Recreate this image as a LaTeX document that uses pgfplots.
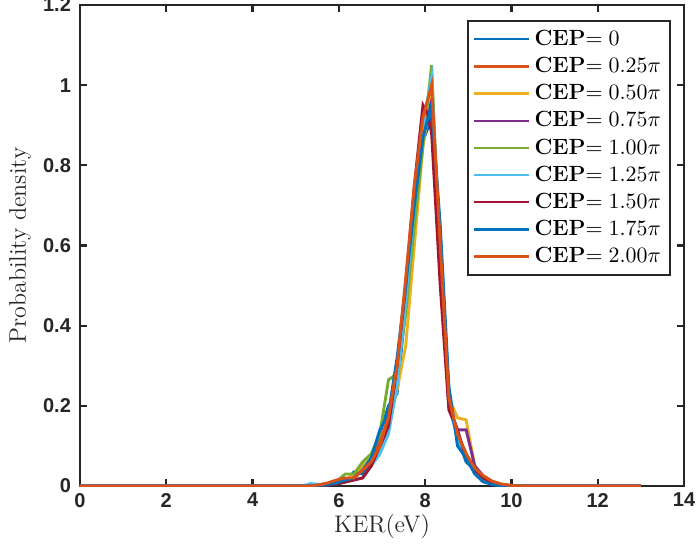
\documentclass[border=0pt]{standalone}
\usepackage{fontspec}
\setsansfont{Liberation Sans}
\usepackage{pgfplots}
\pgfplotsset{compat=1.18}
\usetikzlibrary{calc}
\definecolor{c1}{rgb}{0,0.447,0.741}
\definecolor{c2}{rgb}{0.85,0.325,0.098}
\definecolor{c3}{rgb}{0.929,0.694,0.125}
\definecolor{c4}{rgb}{0.494,0.184,0.556}
\definecolor{c5}{rgb}{0.466,0.674,0.188}
\definecolor{c6}{rgb}{0.301,0.745,0.933}
\definecolor{c7}{rgb}{0.635,0.078,0.184}
\definecolor{axc}{rgb}{0.15,0.15,0.15}
\begin{document}
\begin{tikzpicture}
\begin{axis}[
  scale only axis,
  width=302pt, height=240.5pt,
  xmin=0, xmax=14, ymin=0, ymax=1.2,
  xtick={0,2,...,14}, ytick={0,0.2,...,1.2},
  /pgf/number format/assume math mode=true,
  tick label style={font=\sffamily\bfseries\fontsize{10}{12}\selectfont, text=axc},
  yticklabel style={xshift=-1pt},
  axis line style={axc, line width=1.1pt},
  major tick style={axc, line width=1.1pt},
  major tick length=3.5pt,
  tick align=inside,
  xlabel={KER(eV)}, ylabel={Probability density},
  label style={font=\fontsize{12}{14}\selectfont, text=axc},
  xlabel style={at={($(rel axis cs:0.5,0)+(0,-20.5pt)$)}, anchor=center},
  ylabel style={at={($(rel axis cs:0,0.5)+(-30pt,0)$)}, anchor=center},
  every axis plot/.append style={line width=1.45pt},
  legend cell align=left,
  legend style={at={(rel axis cs:1,1)}, anchor=north east, xshift=-6.5pt, yshift=-7.5pt,
    draw=axc, line width=1.1pt, font=\fontsize{11}{12}\selectfont, row sep=0.4pt, inner sep=2.5pt},
  legend image code/.code={\draw[#1, line width=1.2pt] (0pt,0pt) -- (27.5pt,0pt);},
]
\coordinate (ll) at (rel axis cs:0,0);
\coordinate (ur) at (rel axis cs:1,1);
\addplot[c1] coordinates {(0,0)(5.35,0)(5.55,0.002)(5.75,0.003)(5.95,0.005)(6.15,0.01)(6.35,0.035)(6.55,0.03)(6.75,0.06)(6.95,0.13)(7.15,0.2)(7.35,0.23)(7.55,0.45)(7.75,0.66)(7.95,0.86)(8.15,0.92)(8.35,0.62)(8.55,0.22)(8.75,0.12)(8.95,0.06)(9.15,0.04)(9.35,0.012)(9.55,0.005)(9.75,0.002)(9.95,0)(13,0)};
\addlegendentry{\textbf{CEP}${=}\;0$}
\addplot[c2] coordinates {(0,0)(5.35,0)(5.55,0.002)(5.75,0.004)(5.95,0.008)(6.15,0.012)(6.35,0.02)(6.55,0.04)(6.75,0.07)(6.95,0.11)(7.15,0.17)(7.35,0.3)(7.55,0.5)(7.75,0.73)(7.95,0.9)(8.15,0.97)(8.35,0.58)(8.55,0.21)(8.75,0.13)(8.95,0.08)(9.15,0.045)(9.35,0.025)(9.55,0.012)(9.75,0.005)(9.95,0.002)(10.15,0)(13,0)};
\addlegendentry{\textbf{CEP}${=}\;0.25\pi$}
\addplot[c3] coordinates {(0,0)(5.35,0)(5.55,0.002)(5.75,0.004)(5.95,0.008)(6.15,0.015)(6.35,0.03)(6.55,0.05)(6.75,0.07)(6.95,0.09)(7.15,0.15)(7.35,0.24)(7.55,0.35)(7.75,0.6)(7.95,0.85)(8.15,0.98)(8.35,0.6)(8.55,0.22)(8.75,0.17)(8.95,0.165)(9.15,0.05)(9.35,0.02)(9.55,0.01)(9.75,0.004)(9.95,0)(13,0)};
\addlegendentry{\textbf{CEP}${=}\;0.50\pi$}
\addplot[c4] coordinates {(0,0)(5.35,0)(5.55,0.002)(5.75,0.004)(5.95,0.006)(6.15,0.012)(6.35,0.02)(6.55,0.04)(6.75,0.06)(6.95,0.1)(7.15,0.14)(7.35,0.27)(7.55,0.45)(7.75,0.7)(7.95,0.88)(8.15,0.96)(8.35,0.58)(8.55,0.2)(8.75,0.14)(8.95,0.14)(9.15,0.05)(9.35,0.025)(9.55,0.01)(9.75,0.004)(9.95,0)(13,0)};
\addlegendentry{\textbf{CEP}${=}\;0.75\pi$}
\addplot[c5] coordinates {(0,0)(5.35,0)(5.55,0.003)(5.75,0.006)(5.95,0.012)(6.15,0.03)(6.35,0.03)(6.55,0.06)(6.75,0.08)(6.95,0.13)(7.15,0.265)(7.35,0.28)(7.55,0.43)(7.75,0.65)(7.95,0.85)(8.15,1.05)(8.35,0.55)(8.55,0.2)(8.75,0.13)(8.95,0.08)(9.15,0.04)(9.35,0.02)(9.55,0.01)(9.75,0.004)(9.95,0)(13,0)};
\addlegendentry{\textbf{CEP}${=}\;1.00\pi$}
\addplot[c6] coordinates {(0,0)(5.15,0)(5.35,0.006)(5.55,0.004)(5.75,0.005)(5.95,0.006)(6.15,0.01)(6.35,0.015)(6.55,0.02)(6.75,0.05)(6.95,0.08)(7.15,0.13)(7.35,0.25)(7.55,0.46)(7.75,0.7)(7.95,0.9)(8.15,1.02)(8.35,0.57)(8.55,0.2)(8.75,0.12)(8.95,0.07)(9.15,0.035)(9.35,0.015)(9.55,0.006)(9.75,0.002)(9.95,0)(13,0)};
\addlegendentry{\textbf{CEP}${=}\;1.25\pi$}
\addplot[c7] coordinates {(0,0)(5.35,0)(5.55,0.002)(5.75,0.003)(5.95,0.005)(6.15,0.01)(6.35,0.015)(6.55,0.02)(6.75,0.05)(6.95,0.1)(7.15,0.15)(7.35,0.3)(7.55,0.5)(7.75,0.75)(7.95,0.95)(8.05,0.93)(8.15,0.88)(8.35,0.5)(8.55,0.19)(8.75,0.14)(8.95,0.07)(9.15,0.04)(9.35,0.02)(9.55,0.008)(9.75,0.003)(9.95,0)(13,0)};
\addlegendentry{\textbf{CEP}${=}\;1.50\pi$}
\addplot[c1] coordinates {(0,0)(5.35,0)(5.55,0.002)(5.75,0.004)(5.95,0.008)(6.15,0.015)(6.35,0.02)(6.55,0.04)(6.75,0.07)(6.95,0.14)(7.15,0.18)(7.35,0.32)(7.55,0.5)(7.75,0.7)(7.95,0.87)(8.15,0.95)(8.35,0.65)(8.55,0.25)(8.75,0.1)(8.95,0.07)(9.15,0.03)(9.35,0.01)(9.55,0.004)(9.75,0)(13,0)};
\addlegendentry{\textbf{CEP}${=}\;1.75\pi$}
\addplot[c2] coordinates {(0,0)(5.35,0)(5.55,0.003)(5.75,0.008)(5.95,0.015)(6.15,0.02)(6.35,0.02)(6.55,0.04)(6.75,0.06)(6.95,0.1)(7.15,0.17)(7.35,0.3)(7.55,0.52)(7.75,0.75)(7.95,0.92)(8.15,1.0)(8.35,0.6)(8.55,0.22)(8.75,0.13)(8.95,0.08)(9.15,0.045)(9.35,0.025)(9.55,0.012)(9.75,0.005)(9.95,0.002)(10.15,0)(13,0)};
\addlegendentry{\textbf{CEP}${=}\;2.00\pi$}
\end{axis}
\pgfresetboundingbox
\path ([xshift=-40pt,yshift=-30pt]ll) rectangle ([xshift=6pt,yshift=2.5pt]ur);
\end{tikzpicture}
\end{document}
